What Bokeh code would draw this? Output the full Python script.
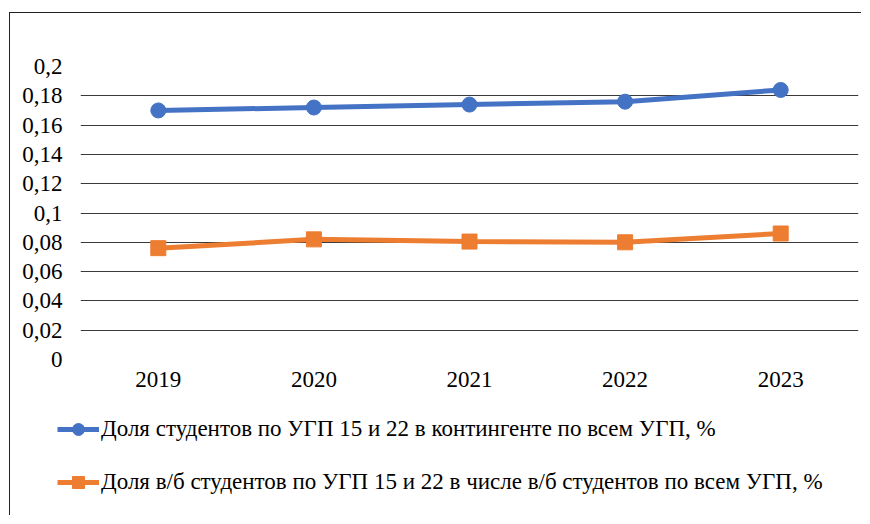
from bokeh.plotting import figure
from bokeh.models import Legend, LegendItem, FixedTicker, ColumnDataSource, FactorRange, Range1d
from bokeh.embed import file_html
from bokeh.resources import INLINE

years = ["2019", "2020", "2021", "2022", "2023"]
share_all = [0.170, 0.172, 0.174, 0.176, 0.184]
share_budget = [0.076, 0.082, 0.0805, 0.080, 0.086]
y_ticks = [0, 0.02, 0.04, 0.06, 0.08, 0.1, 0.12, 0.14, 0.16, 0.18, 0.2]
y_tick_labels = ["0", "0,02", "0,04", "0,06", "0,08", "0,1", "0,12", "0,14", "0,16", "0,18", "0,2"]
label_all = "Доля студентов по УГП 15 и 22 в контингенте по всем УГП, %"
label_budget = "Доля в/б студентов по УГП 15 и 22 в числе в/б студентов по всем УГП, %"

FONT = "Liberation Serif"
BLUE = "#4472C4"
ORANGE = "#ED7D31"

src = ColumnDataSource(dict(x=years, a=share_all, b=share_budget))

p = figure(x_range=years, y_range=(0, 0.2), width=852, height=395,
           output_backend="svg", toolbar_location=None,
           min_border_left=70, min_border_right=4, min_border_top=53, min_border_bottom=49)
p.x_range.range_padding = 0
p.outline_line_color = None
p.background_fill_color = "white"
p.styles = {"border-left": "1px solid #222", "border-top": "1px solid #222",
            "margin-left": "9px", "margin-top": "12px"}

p.xgrid.grid_line_color = None
p.ygrid.grid_line_color = "#3a3a3a"
p.ygrid.grid_line_width = 1
p.yaxis.ticker = FixedTicker(ticks=y_ticks)
p.yaxis.major_label_overrides = {t: l for t, l in zip(y_ticks, y_tick_labels)}

for ax in (p.xaxis[0], p.yaxis[0]):
    ax.axis_line_color = None
    ax.major_tick_line_color = None
    ax.minor_tick_line_color = None
    ax.major_tick_out = 0
    ax.major_tick_in = 0
    ax.major_label_text_font = FONT
    ax.major_label_text_font_size = "23px"
    ax.major_label_text_color = "#000000"
p.xaxis.major_label_standoff = 12
p.yaxis.major_label_standoff = 18

p.line("x", "a", source=src, line_color=BLUE, line_width=5)
p.scatter("x", "a", source=src, marker="circle", size=15, fill_color=BLUE, line_color=BLUE)
p.line("x", "b", source=src, line_color=ORANGE, line_width=5)
p.scatter("x", "b", source=src, marker="square", size=15, fill_color=ORANGE, line_color=ORANGE)

# legend panel: separate figure whose view shows none of the data, so only the legend is visible
leg = figure(width=852, height=108, output_backend="svg", toolbar_location=None,
             x_axis_type=None, y_axis_type=None,
             x_range=FactorRange(factors=years), y_range=Range1d(1, 2),
             min_border=0)
leg.outline_line_color = None
leg.grid.visible = False
leg.styles = {"border-left": "1px solid #222", "margin-left": "9px"}
gl1 = leg.line("x", "a", source=src, line_color=BLUE, line_width=5)
gc1 = leg.scatter("x", "a", source=src, marker="circle", size=14, fill_color=BLUE, line_color=BLUE)
gl2 = leg.line("x", "b", source=src, line_color=ORANGE, line_width=5)
gc2 = leg.scatter("x", "b", source=src, marker="square", size=14, fill_color=ORANGE, line_color=ORANGE)

legend = Legend(items=[LegendItem(label=label_all, renderers=[gl1, gc1]),
                       LegendItem(label=label_budget, renderers=[gl2, gc2])],
                location=(47, 18), orientation="vertical",
                label_text_font=FONT, label_text_font_size="23px", label_text_color="#000000",
                glyph_width=42, glyph_height=30, label_height=30, spacing=23,
                label_standoff=2, padding=0, margin=0,
                border_line_color=None, background_fill_color=None)
leg.add_layout(legend, "center")

open("out.html", "w").write(file_html([p, leg], INLINE))
